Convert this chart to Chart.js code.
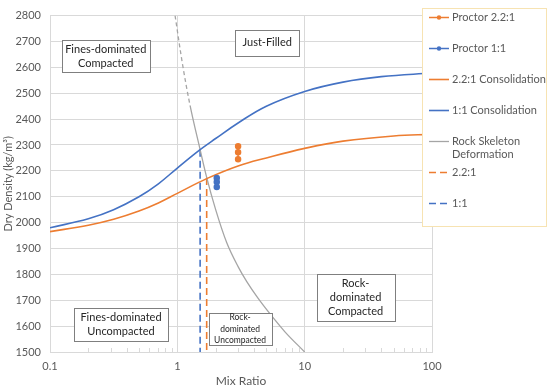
<!DOCTYPE html>
<html>
<head>
<meta charset="utf-8">
<script src="https://cdn.jsdelivr.net/npm/chart.js@4"></script>
<style>
  html, body { margin: 0; padding: 0; background: #fff; }
</style>
</head>
<body>
<canvas id="chart" width="550" height="392"></canvas>
<script>
// consolidation curves
const mix11 = [0.1, 0.2, 0.316, 0.5, 0.71, 1.0, 1.51, 2, 3, 5, 10, 20, 40, 100];
const dens11 = [1980, 2015, 2050, 2100, 2150, 2211, 2282, 2325, 2385, 2450, 2507, 2543, 2564, 2578];
const mix22 = [0.1, 0.2, 0.316, 0.5, 0.71, 1.0, 1.7, 3, 5, 10, 20, 50, 100];
const dens22 = [1965, 1990, 2013, 2045, 2076, 2113, 2170, 2219, 2250, 2287, 2315, 2335, 2341];

// rock skeleton deformation
const rockMix = [0.96, 1.1, 1.26, 1.51, 1.7, 2.0, 2.44, 3.0, 3.51, 4.3, 5.35, 7, 10];
const rockDens = [2800, 2610, 2452, 2282, 2175, 2050, 1923, 1830, 1772, 1708, 1647, 1578, 1500];
const rockDashAbove = 2440;

// proctor tests
const proctor22Mix = [3, 3, 3];
const proctor22Dens = [2295, 2272, 2245];
const proctor11Mix = [2.04, 2.04, 2.04];
const proctor11Dens = [2172, 2157, 2138];

// vertical cut-offs
const cut22Mix = [1.70, 1.70];
const cut22Dens = [2172, 1500];
const cut11Mix = [1.51, 1.51];
const cut11Dens = [2282, 1500];

const xDecades = [0.1, 1, 10, 100];
const xDecadeLabels = ['0.1', '1', '10', '100'];

const regionTexts = [
    ['Fines-dominated', 'Compacted'],
    ['Just-Filled'],
    ['Fines-dominated', 'Uncompacted'],
    ['Rock-', 'dominated', 'Uncompacted'],
    ['Rock-', 'dominated', 'Compacted']
];
const regionX = [0.274, 5.08, 0.361, 3.11, 25.1];
const regionY = [2644, 2695, 1608, 1588, 1712];

const ORANGE = '#ED7D31';
const BLUE = '#4472C4';
const GRAY = '#A5A5A5';
const FONT = 'Lato, "Open Sans", sans-serif';

function pts(xs, ys) {
    return xs.map((x, i) => ({ x: x, y: ys[i] }));
}

// tick list for the log axis: 1..9 inside each decade
const xTickValues = [];
[0.1, 1, 10].forEach(d => {
    for (let m = 1; m <= 9; m++) xTickValues.push(Math.round(d * m * 100) / 100);
});
xTickValues.push(100);

function isDecade(v) {
    const l = Math.log10(v);
    return Math.abs(l - Math.round(l)) < 1e-6;
}

const boxes = {
    id: 'regionBoxes',
    afterDatasetsDraw(chart) {
        const ctx = chart.ctx;
        const xs = chart.scales.x, ys = chart.scales.y;
        const sizes = [[88, 32], [64, 26], [94, 33], [63, 32], [78, 47]];
        const fonts = [11, 11, 11, 8.5, 11];
        ctx.save();
        regionTexts.forEach((lines, i) => {
            const cx = xs.getPixelForValue(regionX[i]);
            const cy = ys.getPixelForValue(regionY[i]);
            const w = sizes[i][0], h = sizes[i][1];
            ctx.fillStyle = '#fff';
            ctx.strokeStyle = '#7F7F7F';
            ctx.lineWidth = 1;
            ctx.fillRect(Math.round(cx - w / 2) + 0.5, Math.round(cy - h / 2) + 0.5, w, h);
            ctx.strokeRect(Math.round(cx - w / 2) + 0.5, Math.round(cy - h / 2) + 0.5, w, h);
            ctx.fillStyle = '#262626';
            ctx.font = fonts[i] + 'px ' + FONT;
            ctx.textAlign = 'center';
            ctx.textBaseline = 'middle';
            const lh = fonts[i] + 3;
            lines.forEach((t, j) => {
                ctx.fillText(t, cx, cy + (j - (lines.length - 1) / 2) * lh);
            });
        });
        ctx.restore();
    }
};

const minorTicks = {
    id: 'minorTicks',
    afterDraw(chart) {
        const ctx = chart.ctx;
        const xs = chart.scales.x;
        const bottom = chart.chartArea.bottom;
        ctx.save();
        ctx.strokeStyle = '#D9D9D9';
        ctx.lineWidth = 1;
        xTickValues.forEach(v => {
            if (isDecade(v)) return;
            const px = Math.round(xs.getPixelForValue(v)) + 0.5;
            ctx.beginPath();
            ctx.moveTo(px, bottom);
            ctx.lineTo(px, bottom - 4);
            ctx.stroke();
        });
        ctx.restore();
    }
};

const sideLegend = {
    id: 'sideLegend',
    afterDraw(chart) {
        const ctx = chart.ctx;
        ctx.save();
        ctx.fillStyle = '#fff';
        ctx.strokeStyle = '#F7E3B2';
        ctx.lineWidth = 1;
        ctx.fillRect(422.5, 8.5, 124, 218);
        ctx.strokeRect(422.5, 8.5, 124, 218);
        ctx.font = '11px ' + FONT;
        ctx.textBaseline = 'middle';
        ctx.textAlign = 'left';
        chart.data.datasets.forEach((ds, i) => {
            const y = 17.5 + 31 * i;
            ctx.strokeStyle = ds.borderColor;
            ctx.lineWidth = ds.borderWidth;
            ctx.setLineDash(ds.borderDash || []);
            ctx.beginPath();
            ctx.moveTo(429, y);
            ctx.lineTo(449, y);
            ctx.stroke();
            ctx.setLineDash([]);
            if (ds.pointRadius > 0) {
                ctx.fillStyle = ds.borderColor;
                ctx.beginPath();
                ctx.arc(439, y, 2.2, 0, Math.PI * 2);
                ctx.fill();
            }
            // wrap long labels
            const words = ds.label.split(' ');
            const lines = [];
            let cur = '';
            words.forEach(w => {
                const test = cur ? cur + ' ' + w : w;
                if (ctx.measureText(test).width > 100 && cur) {
                    lines.push(cur);
                    cur = w;
                } else {
                    cur = test;
                }
            });
            lines.push(cur);
            ctx.fillStyle = '#595959';
            lines.forEach((t, j) => ctx.fillText(t, 452, y + j * 13.4));
        });
        ctx.restore();
    }
};

const ctx = document.getElementById('chart').getContext('2d');
const chart = new Chart(ctx, {
    type: 'line',
    data: {
        datasets: [
            {
                label: 'Proctor 2.2:1',
                data: pts(proctor22Mix, proctor22Dens),
                borderColor: ORANGE, backgroundColor: ORANGE,
                borderWidth: 1.5, pointRadius: 2.5, pointHoverRadius: 2.5
            },
            {
                label: 'Proctor 1:1',
                data: pts(proctor11Mix, proctor11Dens),
                borderColor: BLUE, backgroundColor: BLUE,
                borderWidth: 1.5, pointRadius: 2.5, pointHoverRadius: 2.5
            },
            {
                label: '2.2:1 Consolidation',
                data: pts(mix22, dens22),
                borderColor: ORANGE, borderWidth: 1.6, pointRadius: 0,
                tension: 0.4
            },
            {
                label: '1:1 Consolidation',
                data: pts(mix11, dens11),
                borderColor: BLUE, borderWidth: 1.6, pointRadius: 0,
                tension: 0.4
            },
            {
                label: 'Rock Skeleton Deformation',
                data: pts(rockMix, rockDens),
                borderColor: GRAY, borderWidth: 1.3, pointRadius: 0,
                cubicInterpolationMode: 'monotone',
                segment: {
                    borderDash: c => c.p1.parsed.y > rockDashAbove ? [4, 3] : undefined
                }
            },
            {
                label: '2.2:1',
                data: pts(cut22Mix, cut22Dens),
                borderColor: ORANGE, borderWidth: 1.6, pointRadius: 0,
                borderDash: [7, 4]
            },
            {
                label: '1:1',
                data: pts(cut11Mix, cut11Dens),
                borderColor: BLUE, borderWidth: 1.6, pointRadius: 0,
                borderDash: [7, 4]
            }
        ]
    },
    options: {
        responsive: false,
        animation: false,
        layout: { padding: { left: 1, right: 118, top: 8, bottom: 4 } },
        plugins: {
            legend: { display: false },
            tooltip: { enabled: false }
        },
        scales: {
            x: {
                type: 'logarithmic',
                min: 0.1,
                max: 100,
                afterBuildTicks: scale => {
                    scale.ticks = xTickValues.map(v => ({ value: v, major: isDecade(v) }));
                },
                afterFit: scale => { scale.height = 36; },
                ticks: {
                    autoSkip: false,
                    maxRotation: 0,
                    padding: 8,
                    color: '#595959',
                    font: { family: FONT, size: 11 },
                    callback: v => {
                        const k = xDecades.findIndex(d => Math.abs(Math.log10(d) - Math.log10(v)) < 1e-6);
                        return k >= 0 ? xDecadeLabels[k] : '';
                    }
                },
                grid: {
                    drawTicks: false,
                    color: c => (c.tick && isDecade(c.tick.value)) ? '#D9D9D9' : 'rgba(0,0,0,0)'
                },
                border: { color: '#D9D9D9' },
                title: {
                    display: true,
                    text: 'Mix Ratio',
                    color: '#595959',
                    font: { family: FONT, size: 12 },
                    padding: { top: 0, bottom: 0 }
                }
            },
            y: {
                min: 1500,
                max: 2800,
                afterFit: scale => { scale.width = 49; },
                ticks: {
                    stepSize: 100,
                    padding: 9,
                    color: '#595959',
                    font: { family: FONT, size: 11 },
                    callback: v => String(v)
                },
                grid: { drawTicks: false, color: '#D9D9D9' },
                border: { display: false },
                title: {
                    display: true,
                    text: 'Dry Density (kg/m³)',
                    color: '#595959',
                    font: { family: FONT, size: 11 },
                    padding: { top: 1, bottom: 0 }
                }
            }
        }
    },
    plugins: [boxes, minorTicks, sideLegend]
});
</script>
</body>
</html>
